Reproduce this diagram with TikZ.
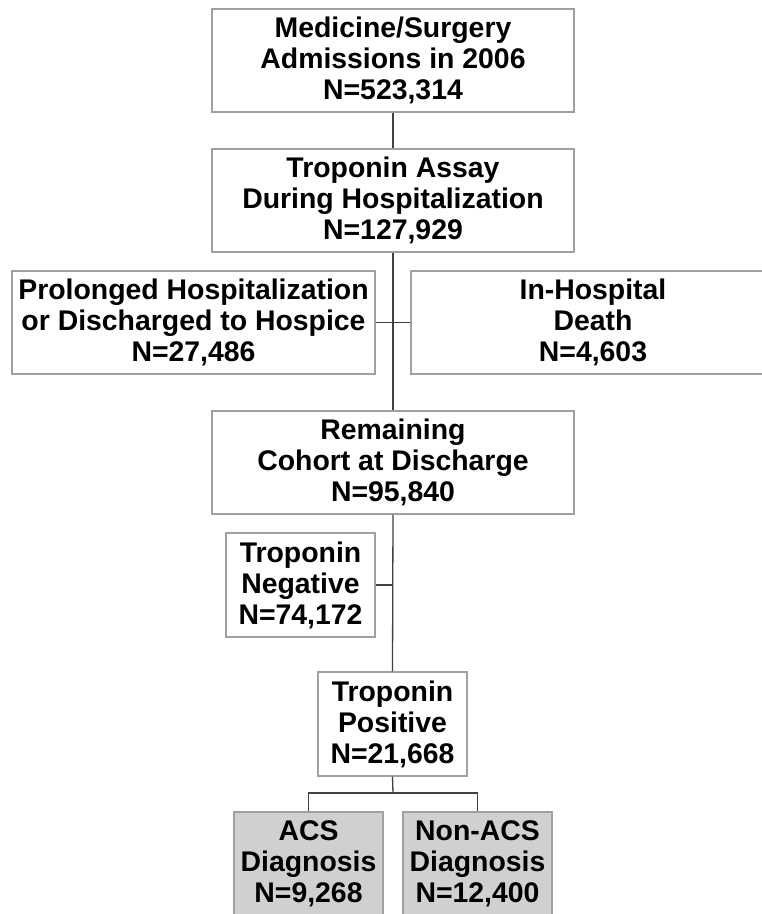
\documentclass[tikz,border=0pt]{standalone}
\usepackage{fontspec}
\setmainfont{Liberation Sans}
\definecolor{boxline}{HTML}{A0A0A0}
\definecolor{conn}{HTML}{404040}
\definecolor{boxfill}{HTML}{D0D0D0}
\begin{document}
\begin{tikzpicture}[x=1pt,y=-1pt,
  box/.style={draw=boxline, line width=1.3pt, fill=white, align=center,
    font=\fontsize{28.4}{31}\selectfont\bfseries, inner sep=0pt,
    minimum height=103pt},
  wide/.style={box, minimum width=362pt},
  small/.style={box, minimum width=149pt, minimum height=104pt},
  grey/.style={small, fill=boxfill},
  link/.style={draw=conn, line width=1.3pt}]
\useasboundingbox (0,0) rectangle (762,914);
\fill[white] (0,0) rectangle (762,914);
\node[wide] (b1) at (393,60.5) {Medicine/Surgery\\Admissions in 2006\\N=523,314};
\node[wide] (b2) at (393,200.5) {Troponin Assay\\During Hospitalization\\N=127,929};
\node[wide, minimum width=363pt] (b3L) at (193.5,322.5) {Prolonged Hospitalization\\or Discharged to Hospice\\N=27,486};
\node[wide, minimum width=364pt] (b3R) at (593,322.5) {In-Hospital\\Death\\N=4,603};
\node[wide] (b4) at (393,462.5) {Remaining\\Cohort at Discharge\\N=95,840};
\node[small] (neg) at (300.5,585) {Troponin\\Negative\\N=74,172};
\node[small] (pos) at (392.5,724) {Troponin\\Positive\\N=21,668};
\node[grey] (acs) at (308.5,864) {ACS\\Diagnosis\\N=9,268};
\node[grey] (nonacs) at (477.5,864) {Non-ACS\\Diagnosis\\N=12,400};
\coordinate (j1) at (393,585);
\coordinate (j2) at (393,793);
\draw[link] (b1.south) -- (b2.north);
\draw[link] (b2.south) -- (b4.north);
\draw[link] (b3L.east) -- (b3R.west);
\draw[link] (b4.south) -- (pos.north);
\draw[link] (neg.east) -- (j1);
\draw[link] (pos.south) -- (j2);
\draw[link] (acs.north) |- (j2) -| (nonacs.north);
\end{tikzpicture}
\end{document}
